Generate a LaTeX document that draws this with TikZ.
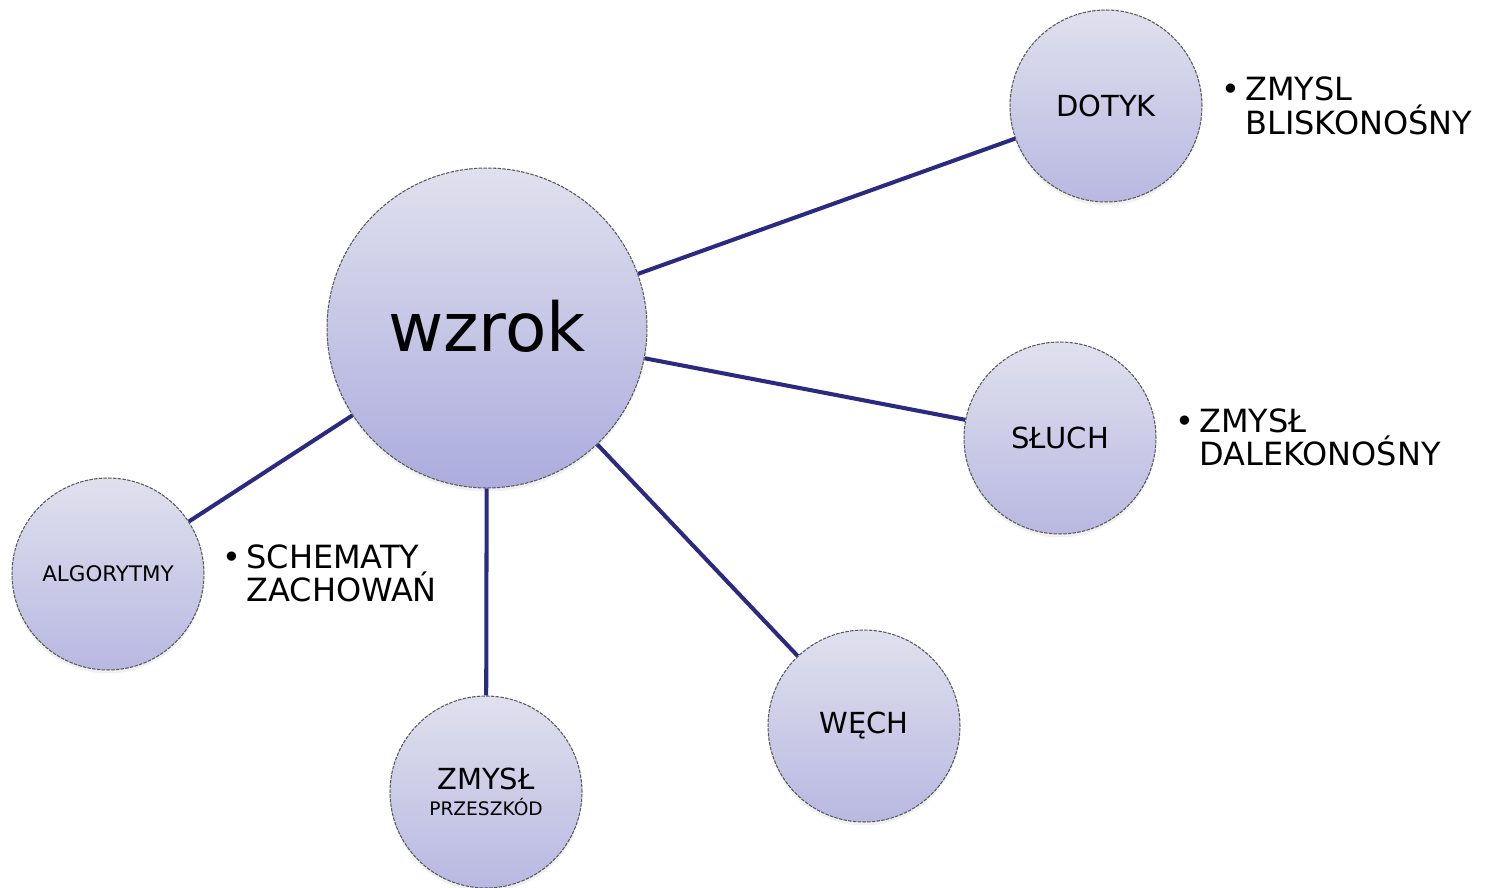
\documentclass[tikz,border=0pt]{standalone}
\usepackage{fontspec}
\setmainfont{DejaVu Sans}
\usetikzlibrary{shadows}
\definecolor{linia}{RGB}{42,42,128}
\definecolor{gora}{RGB}{224,224,238}
\definecolor{dol}{RGB}{172,172,222}
\definecolor{dolmaly}{RGB}{184,184,226}

\begin{document}
\begin{tikzpicture}[x=0.02cm,y=-0.02cm,
    bubble/.style={circle,draw=gray!70!black,dash pattern=on 2pt off 0.7pt,line width=0.6pt,
        top color=gora,bottom color=dolmaly,minimum size=3.84cm,inner sep=0pt,align=center,
        drop shadow={opacity=0.12,shadow xshift=0pt,shadow yshift=-2pt},
        font=\fontsize{16.5}{18}\selectfont},
    big bubble/.style={bubble,bottom color=dol,minimum size=6.4cm,font=\fontsize{38.5}{40}\selectfont},
    note/.style={anchor=base west,inner sep=0pt,font=\fontsize{18.2}{19.3}\selectfont},
    conn/.style={linia,line width=2.3pt}]
    \useasboundingbox (0,0) rectangle (1487,888);
    % wezly
    \node[big bubble] (wzrok) at (487,328) {\raisebox{3pt}{wzrok}};
    \node[bubble] (dotyk) at (1106,106) {DOTYK};
    \node[bubble] (sluch) at (1060,438) {SŁUCH};
    \node[bubble] (wech) at (864,726) {WĘCH};
    \node[bubble] (przeszkod) at (486,792) {ZMYSŁ\\[-3pt]{\fontsize{10.6}{12}\selectfont PRZESZKÓD}};
    \node[bubble,font=\fontsize{12.2}{14}\selectfont] (algorytmy) at (108,574) {ALGORYTMY};
    % polaczenia
    \draw[conn] (wzrok) -- (dotyk);
    \draw[conn] (wzrok) -- (sluch);
    \draw[conn] (wzrok) -- (wech);
    \draw[conn] (wzrok) -- (przeszkod);
    \draw[conn] (wzrok) -- (algorytmy);
    % opisy
    \node[note] (blisko) at (1221,101) {\begin{tabular}[t]{@{}l@{\hspace{3pt}}l@{}}•&ZMYSL\\&\smash{BLISKONOŚNY}\end{tabular}};
    \node[note] (daleko) at (1175,432) {\begin{tabular}[t]{@{}l@{\hspace{3pt}}l@{}}•&ZMYSŁ\\&\smash{DALEKONOŚNY}\end{tabular}};
    \node[note] (schematy) at (222,568) {\begin{tabular}[t]{@{}l@{\hspace{3pt}}l@{}}•&SCHEMATY\\&\smash{ZACHOWAŃ}\end{tabular}};
\end{tikzpicture}
\end{document}
